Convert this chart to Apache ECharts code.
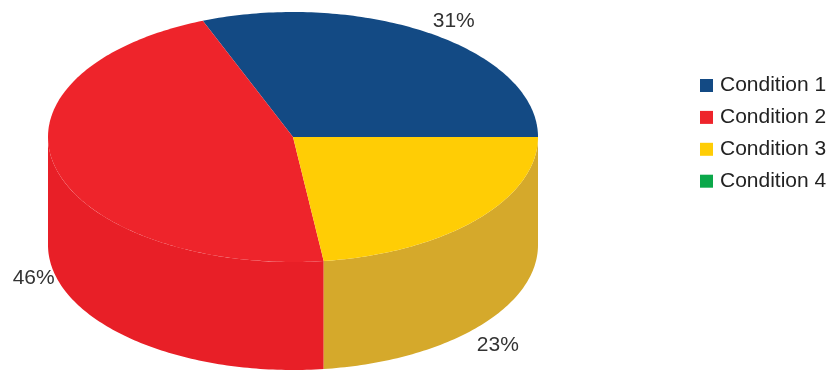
<!DOCTYPE html>
<html>
<head>
<meta charset="utf-8">
<style>html,body{margin:0;padding:0;background:#fff}#chart{width:834px;height:370px}</style>
<script src="https://cdn.jsdelivr.net/npm/echarts@6/dist/echarts.min.js"></script>
</head>
<body>
<div id="chart"></div>
<script>
// Share of each condition, in percent
const categories = ['Condition 1', 'Condition 2', 'Condition 3', 'Condition 4'];
const shares = [31, 46, 23, 0];
const topColors = ['#134a84', '#ee242b', '#ffcd05', '#0ba84a'];
const sideColors = ['#0f3d6e', '#e81f27', '#d5a92b', '#098a3d'];

// Tilted disc: centre and radii of the top face, plus wall height
const disc = { cx: 293, cy: 137, rx: 245, ry: 125, depth: 108 };
const total = shares.reduce((a, b) => a + b, 0);

// Angle (radians, counter-clockwise from east) where a slice begins
function startAngle(index) {
  let sum = 0;
  for (let i = 0; i < index; i++) sum += shares[i];
  return sum / total * Math.PI * 2;
}

function rim(angle, drop) {
  return [disc.cx + disc.rx * Math.cos(angle),
          disc.cy - disc.ry * Math.sin(angle) + drop];
}

function arc(from, to, drop) {
  const steps = Math.max(2, Math.ceil((to - from) / (Math.PI / 180)));
  const pts = [];
  for (let i = 0; i <= steps; i++) pts.push(rim(from + (to - from) * i / steps, drop));
  return pts;
}

function renderSlice(index) {
  return function () {
    const value = shares[index];
    if (!value) return { type: 'group', children: [] };
    const a0 = startAngle(index);
    const a1 = a0 + value / total * Math.PI * 2;
    const children = [];

    // The wall only shows along the near half of the disc
    const w0 = Math.max(a0, Math.PI);
    const w1 = Math.min(a1, Math.PI * 2);
    if (w1 > w0) {
      children.push({
        type: 'polygon',
        shape: { points: arc(w0, w1, 0).concat(arc(w0, w1, disc.depth).reverse()) },
        style: { fill: sideColors[index] }
      });
    }
    children.push({
      type: 'polygon',
      shape: { points: [[disc.cx, disc.cy]].concat(arc(a0, a1, 0)) },
      style: { fill: topColors[index] }
    });

    // Percentage label hangs just outside the visible rim
    const mid = (a0 + a1) / 2;
    const s = Math.sin(mid), c = Math.cos(mid);
    const anchor = rim(mid, s < 0 ? disc.depth : 0);
    children.push({
      type: 'text',
      style: {
        text: value + '%',
        x: anchor[0] + (c > 0 ? (s > 0 ? 2 : 0) : -1),
        y: anchor[1] + (s > 0.5 ? -2 : s < -0.5 ? 7 : 2),
        align: c > 0 ? 'left' : 'right',
        verticalAlign: s > 0.5 ? 'bottom' : s < -0.5 ? 'top' : 'middle',
        fontFamily: 'Liberation Sans',
        fontSize: 21,
        fill: '#333'
      },
      z2: 10
    });
    return { type: 'group', children };
  };
}

const chart = echarts.init(document.getElementById('chart'), null, { renderer: 'canvas' });
chart.setOption({
  animation: false,
  backgroundColor: '#fff',
  legend: {
    orient: 'vertical',
    left: 700,
    top: 75,
    padding: 0,
    icon: 'rect',
    itemWidth: 13,
    itemHeight: 13,
    itemGap: 10.9,
    selectedMode: false,
    textStyle: { fontFamily: 'Liberation Sans', fontSize: 21, lineHeight: 20, padding: [0, 0, 0, 2], color: '#222' },
    data: categories
  },
  series: categories.map((name, i) => ({
    type: 'custom',
    name: name,
    coordinateSystem: 'none',
    silent: true,
    itemStyle: { color: topColors[i] },
    data: [[shares[i]]],
    renderItem: renderSlice(i)
  }))
});
</script>
</body>
</html>
